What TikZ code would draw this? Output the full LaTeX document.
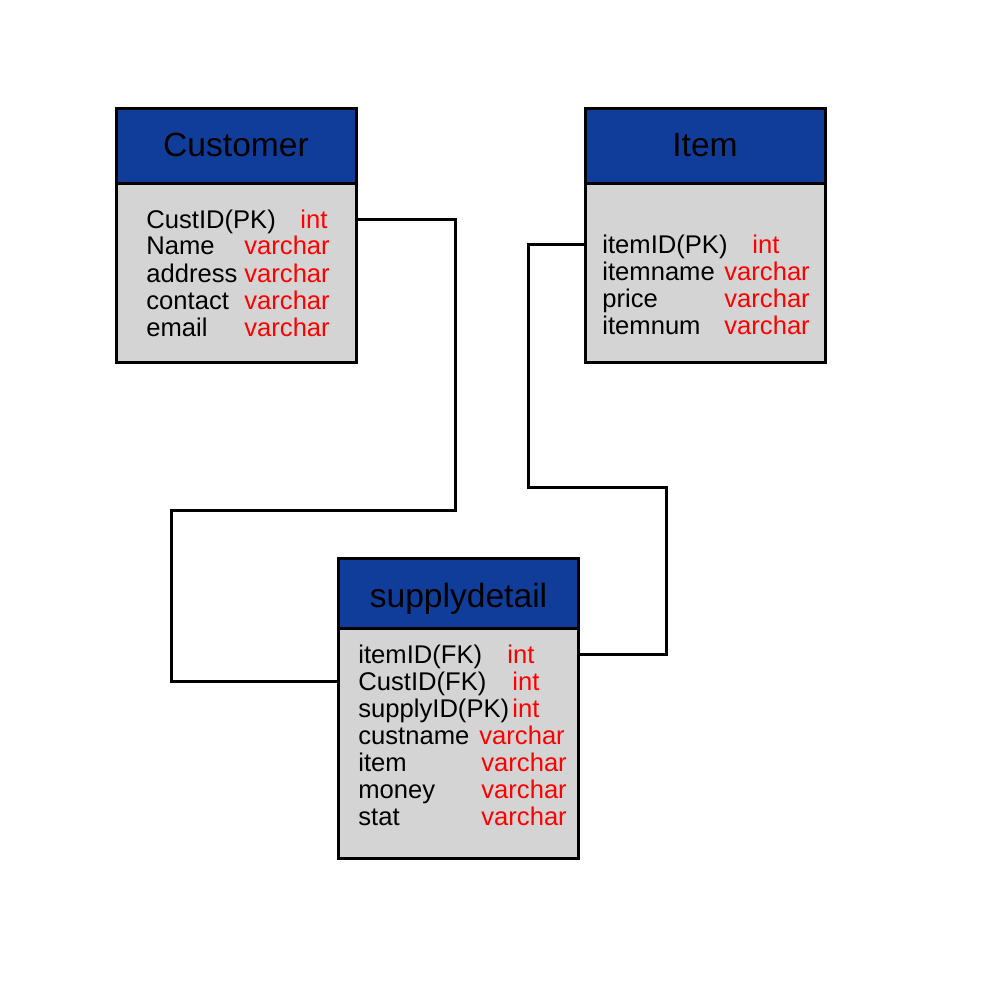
\documentclass[tikz,border=0pt]{standalone}
\usepackage{fontspec}
\setmainfont{Liberation Sans}
\usetikzlibrary{positioning}
\definecolor{headblue}{RGB}{17,61,154}
\definecolor{bodygray}{RGB}{212,212,212}
\begin{document}
\begin{tikzpicture}[x=0.5pt,y=-0.5pt,
head/.style={draw,line width=1.5pt,fill=headblue,minimum width=120pt,inner sep=0pt,outer sep=0pt},
body/.style={draw,line width=1.5pt,fill=bodygray,minimum width=120pt,inner sep=0pt,outer sep=0pt},
title/.style={anchor=base,inner sep=0pt,font=\fontsize{16.8}{20}\selectfont},
attr/.style={anchor=base west,inner sep=0pt,font=\fontsize{12.8}{13.5}\selectfont},
dtype/.style={attr,text=red},
link/.style={line width=1.5pt}]
\useasboundingbox (0,0) rectangle (1000,1000);
% tables
\node[head,minimum height=37.5pt] (custhead) at (236,146.5) {};
\node[body,minimum height=89pt,below=0pt of custhead] (customer) {};
\node[title] (custtitle) at ([yshift=-24pt]custhead.north) {Customer};
\node[head,minimum height=37.5pt] (itemhead) at (705,146.5) {};
\node[body,minimum height=89pt,below=0pt of itemhead] (item) {};
\node[title] (itemtitle) at ([yshift=-24pt]itemhead.north) {Item};
\node[head,minimum height=35pt] (supplyhead) at (458.5,593) {};
\node[body,minimum height=115pt,below=0pt of supplyhead] (supply) {};
\node[title] (supplytitle) at ([yshift=-24.5pt]supplyhead.north) {supplydetail};
% rows
\foreach \n/\t/\x [count=\i] in {CustID(PK)/int/300,Name/varchar/244,address/varchar/244,contact/varchar/244,email/varchar/244}{
  \node[attr] (cn\i) at (146,201+27*\i) {\n};
  \node[dtype] (ct\i) at (\x,201+27*\i) {\t};
}
\foreach \n/\t/\x [count=\i] in {itemID(PK)/int/752,itemname/varchar/724,price/varchar/724,itemnum/varchar/724}{
  \node[attr] (in\i) at (602,226+27*\i) {\n};
  \node[dtype] (it\i) at (\x,226+27*\i) {\t};
}
\foreach \n/\t/\x [count=\i] in {itemID(FK)/int/507,CustID(FK)/int/512,supplyID(PK)/int/512,custname/varchar/479,item/varchar/481,money/varchar/481,stat/varchar/481}{
  \node[attr] (sn\i) at (358,636+27*\i) {\n};
  \node[dtype] (st\i) at (\x,636+27*\i) {\t};
}
% links
\coordinate (custkey) at ([yshift=1.5pt]cn1.mid);
\coordinate (itemkey) at ([yshift=1.5pt]in1.mid);
\coordinate (fkitem) at ([yshift=1.5pt]sn1.mid);
\coordinate (fkcust) at ([yshift=1.5pt]sn2.mid);
\coordinate (k1) at (455,510);
\coordinate (k2) at (171,510);
\coordinate (k3) at (528,487);
\coordinate (k4) at (666,487);
\draw[link] (customer.east |- custkey) -| (k1) -- (k2) |- (supply.west |- fkcust);
\draw[link] (item.west |- itemkey) -| (k3) -- (k4) |- (supply.east |- fkitem);
\end{tikzpicture}
\end{document}
